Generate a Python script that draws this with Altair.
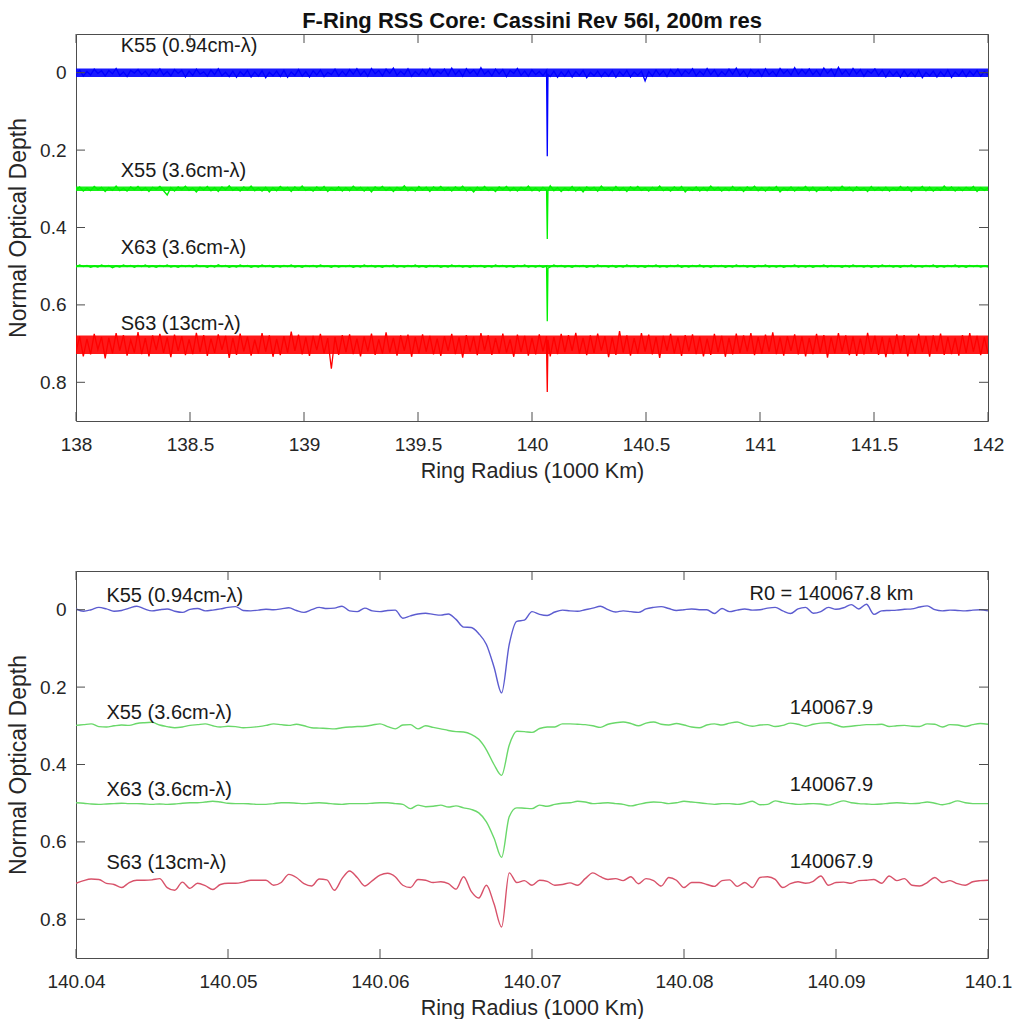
import altair as alt
import pandas as pd

# ---------------- data ----------------
SERIES = ["K55", "X55", "X63", "S63"]
LABELS = ["K55 (0.94cm-λ)", "X55 (3.6cm-λ)", "X63 (3.6cm-λ)", "S63 (13cm-λ)"]
TOP_BASE = [0, 300, 500, 703]          # thousandths of optical depth
TOP_CORE = [11, 6, 3, 24]              # half-width of the dense noise core (thousandths)
TOP_COLORS = ["#0000ff", "#00f000", "#00f000", "#ff0000"]
BOT_COLORS = ["#5c5cd0", "#6ad86a", "#6ad86a", "#d8526a"]

# top panel: 200 m sampled profile, deviations from base (thousandths)
TOP_START, TOP_STEP = 138.0, 0.016
K55_TOP = [4,-7,9,-3,6,-9,2,-5,8,-6,3,-11,7,-2,10,-6,1,-8,5,-4,9,-7,3,-10,6,
           -3,8,-8,2,-6,11,-4,7,-9,4,-2,9,-7,5,-10,8,-1,10,-4,12,-3,7,-6,11,-2,
           9,-5,13,-1,8,-4,10,-6,12,-2,7,-8,9,-3,11,-5,6,-7,10,-1,5,-9,8,-4,7,
           -8,4,-10,6,-5,9,-11,3,-6,8,-9,2,-12,7,-4,5,-10,9,-3,6,-8,4,-11,8,-5,
           3,-9,7,-12,5,-6,9,-10,2,-7,6,-13,4,-5,8,-9,3,-8,10,-6,2,-11,7,-4,9,
           -7,5,-3,8,-6,10,-4,12,-2,9,-5,11,-3,7,-6,13,-1,8,-4,10,-2,9,-5,12,-3,
           8,-6,11,-2,7,-4,21,-3,9,-7,6,-5,10,-8,4,-9,7,-6,3,-10,8,-4,6,-11,5,
           -7,9,-3,6,-9,4,-12,7,-5,10,-8,3,-6,9,-10,5,-4,8,-11,2,-7,6,-13,4,-8,
           3,-10,5,-6,7,-12,2,-9,8,-14,4,-7,6,-11,3,-8,9,-5,2,-10,7,-6,11,-4,8,
           -3,12,-5,9,-2,10,-6,13,-1,8,-4,11,-3,9,-7,12,-2,8,-5,10,-4,7,-6,9,-3,
           5]
X55_TOP = [3,-5,6,-2,5,-6,2,-4,7,-3,4,-7,5,-1,6,-5,2,-6,4,-3,7,-4,1,-6,5,
           16,-3,6,-5,2,-7,4,-2,8,-4,3,-6,5,-3,7,-5,2,-8,4,-2,6,-5,3,-7,5,
           -2,6,-4,8,-3,5,-6,2,-4,7,-5,3,-7,4,-1,6,-5,3,-6,7,-2,4,-5,6,-3,
           5,-7,2,-4,6,-3,8,-5,1,-6,4,-3,7,-4,2,-8,5,-2,6,-6,3,-4,7,-5,2,
           -6,4,-3,6,-5,2,-7,5,-2,8,-4,3,-6,4,-1,7,-5,2,-6,5,-3,6,-4,3,-7,
           5,-2,6,-4,3,-8,5,-3,7,-2,4,-6,6,-3,8,-5,2,-4,6,-7,3,-2,5,-6,4,
           -3,7,-5,2,-6,4,-2,6,-4,3,-7,5,-1,6,-5,3,-6,8,-2,4,-5,6,-3,5,-7,
           3,-4,6,-2,5,-6,4,-3,7,-5,2,-7,5,-3,6,-4,3,-6,8,-2,4,-5,6,-3,2,
           -6,5,-4,7,-2,3,-5,6,-3,4,-7,2,-4,6,-5,3,-2,7,-6,4,-3,5,-4,6,-2,
           4,-6,3,-5,7,-3,2,-6,5,-4,6,-2,4,-7,3,-5,6,-3,5,-4,2,-6,7,-3,4,
           -2]
X63_TOP = [2,-3,1,-2,3,-1,2,-3,1,-2,4,-1,2,-3,1,-2,3,-2,1,-3,2,-1,3,-2,1,
           -3,2,-1,3,-2,1,-2,2,-3,1,-1,3,-2,2,-4,1,-2,3,-1,2,-3,1,-2,3,-1,
           2,-3,1,-2,3,-1,2,-2,1,-3,2,-1,3,-2,1,-2,2,-3,1,-1,3,-2,2,-1,1,
           -2,3,-1,2,-3,1,-2,2,-1,3,-2,1,-3,2,-1,2,-2,1,-3,2,-1,3,-2,1,-2,
           3,-1,2,-3,1,-2,2,-1,3,-2,1,-2,3,-1,2,-3,1,-2,2,-1,3,-2,1,-3,2,
           -1,2,-2,3,-1,2,-3,1,-2,2,-1,3,-2,1,-2,3,-1,2,-3,1,-1,2,-2,3,-1,
           2,-3,1,-2,2,-1,3,-2,1,-3,2,-1,2,-2,1,-3,3,-1,2,-2,1,-3,2,-1,3,
           -2,1,-2,3,-1,2,-3,1,-2,2,-1,3,-2,1,-3,2,-1,2,-2,3,-1,1,-3,2,-1,
           2,-2,3,-1,1,-3,2,-2,1,-1,3,-2,2,-3,1,-1,2,-2,3,-1,2,-3,1,-2,2,
           -1,3,-2,1,-3,2,-1,2,-2,1,-3,3,-1,2,-2,1,-3,2,-1,3,-2,1,-2,2,-1,
           2]
S63_TOP = [18,-22,30,-15,25,-28,12,-20,35,-18,22,-30,15,-25,28,-12,20,-33,24,-17,30,-24,14,-28,21,
           -19,32,-26,16,-22,27,-14,24,-31,19,-25,29,-16,21,-27,13,-23,34,-18,26,-29,17,-21,28,-13,
           23,-30,18,-24,31,-15,27,-22,20,-34,16,-26,25,-19,29,-23,14,-28,22,-17,62,-20,26,-25,19,
           -27,24,-16,30,-21,17,-29,26,-14,23,-32,20,-18,28,-24,15,-26,31,-20,22,-27,18,-23,25,-16,
           29,-22,16,-28,24,-19,33,-25,18,-21,27,-30,15,-24,26,-17,22,-29,20,-14,31,-26,19,-23,28,
           -18,25,-27,17,-22,30,-20,24,-28,19,-25,16,-31,23,-18,27,-24,21,-29,15,-22,32,-19,26,-35,
           20,-24,28,-17,23,-30,18,-26,25,-20,34,-23,16,-28,22,-19,29,-25,17,-27,24,-21,30,-16,26,
           -28,19,-23,31,-18,25,-29,21,-24,17,-30,27,-20,23,-26,18,-32,24,-19,28,-22,16,-27,25,-21,
           30,-17,24,-28,20,-25,33,-19,22,-30,18,-24,27,-21,29,-16,25,-31,19,-23,26,-20,32,-18,24,
           -27,21,-25,30,-16,23,-28,19,-22,31,-24,17,-29,26,-20,24,-18,28,-25,21,-30,18,-23,27,-19,
           22]
# the narrow F-ring core seen in the top panel (absolute thousandths)
SPIKE_R = [140.064, 140.067, 140.070]
SPIKE_TAU = {"K55": [8, 216, 5], "X55": [308, 430, 305],
             "X63": [506, 642, 505], "S63": [715, 825, 690]}

# bottom panel: zoom on the core, absolute optical depth (thousandths), 0.5 km sampling
BOT_START, BOT_STEP = 140.04, 0.0005
K55_BOT = [-2, 4, 0, -6, -2, 4, 2, -4, -9, -2,
           3, 0, -2, 4, 7, -1, -3, 3, 1, -2,
           -6, -8, 2, 3, 1, -1, 0, -2, -5, 2,
           7, 0, -6, -3, -4, -9, 3, 5, -4, 3,
           5, 2, 1, 22, 16, 11, 9, 12, 14, 11,
           25, 45, 46, 62, 90, 148, 215, 90, 30, 27,
           5, 12, 15, 6, 1, 3, 4, 0, -4, -9,
           0, 6, 3, 5, 7, -2, -6, -8, -3, 2,
           0, -2, 0, 0, 10, -3, 5, 1, -2, 1,
           0, -4, -6, 3, 10, -2, -6, 9, 5, -6,
           -1, -5, -13, -2, -14, 12, 3, 2, 1, -1,
           -2, -7, -10, 0, 3, 1, 2, 3, 1, 0,
           3]
X55_BOT = [299, 297, 295, 302, 303, 300, 298, 299, 294, 292,
           291, 298, 302, 305, 303, 299, 297, 295, 300, 303,
           301, 302, 305, 304, 302, 299, 295, 297, 299, 296,
           300, 305, 306, 307, 308, 305, 303, 302, 301, 298,
           295, 302, 308, 298, 297, 308, 300, 304, 308, 312,
           315, 316, 322, 335, 362, 400, 428, 350, 314, 315,
           317, 307, 303, 303, 295, 295, 296, 297, 300, 304,
           296, 292, 290, 294, 300, 293, 290, 296, 298, 294,
           298, 303, 305, 298, 295, 298, 293, 290, 297, 301,
           298, 297, 302, 299, 293, 296, 301, 296, 293, 292,
           298, 303, 301, 299, 297, 297, 296, 302, 300, 299,
           301, 302, 295, 296, 303, 297, 298, 302, 297, 294,
           296]
X63_BOT = [499, 500, 502, 503, 502, 501, 500, 501, 501, 502,
           503, 502, 503, 502, 500, 499, 499, 497, 495, 497,
           500, 501, 501, 502, 503, 503, 501, 499, 499, 500,
           501, 500, 499, 500, 502, 503, 501, 501, 501, 500,
           499, 499, 501, 503, 514, 505, 509, 508, 505, 510,
           507, 512, 516, 525, 548, 590, 640, 535, 512, 513,
           514, 505, 508, 503, 500, 499, 495, 497, 501, 500,
           499, 501, 503, 507, 503, 499, 497, 498, 501, 499,
           495, 497, 499, 501, 503, 501, 501, 503, 500, 495,
           504, 503, 494, 498, 501, 503, 502, 501, 502, 505,
           499, 494, 499, 501, 502, 503, 502, 500, 499, 500,
           501, 500, 497, 500, 504, 500, 494, 499, 501, 501,
           501]
S63_BOT = [707, 700, 696, 697, 707, 710, 718, 705, 699, 699,
           698, 695, 718, 725, 704, 720, 707, 713, 723, 710,
           707, 707, 704, 699, 699, 699, 712, 705, 684, 692,
           708, 714, 696, 698, 725, 695, 675, 692, 714, 700,
           686, 681, 690, 712, 718, 697, 699, 705, 703, 708,
           722, 690, 728, 745, 712, 760, 820, 680, 705, 700,
           712, 699, 702, 712, 710, 706, 712, 695, 680, 690,
           697, 695, 700, 690, 708, 695, 700, 714, 692, 699,
           718, 705, 705, 710, 715, 700, 698, 715, 705, 718,
           692, 690, 697, 718, 708, 703, 707, 702, 688, 712,
           705, 704, 707, 700, 699, 697, 707, 688, 700, 695,
           712, 714, 705, 692, 705, 700, 708, 712, 703, 700,
           699]

TOP_XTICKS = [138, 138.5, 139, 139.5, 140, 140.5, 141, 141.5, 142]
BOT_XTICKS = [140.04, 140.05, 140.06, 140.07, 140.08, 140.09, 140.1]
YTICKS = [0, 0.2, 0.4, 0.6, 0.8]

TOP_LAB_R = 138.196
TOP_LAB_TAU = [-0.07, 0.253, 0.452, 0.65]
BOT_LAB_R = 140.042
BOT_LAB_TAU = [-0.036, 0.268, 0.467, 0.655]
R0_TEXT = ["R0 = 140067.8 km", "140067.9", "140067.9", "140067.9"]
R0_R = 140.0897
R0_TAU = [-0.041, 0.253, 0.454, 0.653]

# ---------------- tables ----------------
rows = []
for s, base, dev in zip(SERIES, TOP_BASE, [K55_TOP, X55_TOP, X63_TOP, S63_TOP]):
    for k, d in enumerate(dev):
        rows.append({"r": TOP_START + TOP_STEP * k, "tau": (base + d) / 1000.0, "series": s})
    for r, t in zip(SPIKE_R, SPIKE_TAU[s]):
        rows.append({"r": r, "tau": t / 1000.0, "series": s})
top_df = pd.DataFrame(rows)

core_df = pd.DataFrame([
    {"r": r, "lo": (b - c) / 1000.0, "hi": (b + c) / 1000.0, "series": s}
    for s, b, c in zip(SERIES, TOP_BASE, TOP_CORE) for r in (138.0, 142.0)
])

rows = []
for s, vals in zip(SERIES, [K55_BOT, X55_BOT, X63_BOT, S63_BOT]):
    for j, v in enumerate(vals):
        rows.append({"r": BOT_START + BOT_STEP * j, "tau": v / 1000.0, "band": s})
bot_df = pd.DataFrame(rows)

top_lab = pd.DataFrame({"r": [TOP_LAB_R] * 4, "tau": TOP_LAB_TAU, "text": LABELS})
bot_lab = pd.DataFrame({"r": [BOT_LAB_R] * 4, "tau": BOT_LAB_TAU, "text": LABELS})
r0_lab = pd.DataFrame({"r": [R0_R] * 4, "tau": R0_TAU, "text": R0_TEXT})

FONT = "Liberation Sans"
W, H = 912, 387
TL = 9
AX = "#4d4d4d"


def panel(df, cfield, labs, extra_labs, xticks, xdom, colors, interp, sw, core=None, title=None):
    xs = alt.Scale(domain=xdom, nice=False, zero=False)
    ys = alt.Scale(domain=[-0.1, 0.9], reverse=True, nice=False, zero=False)
    x_enc = alt.X("r:Q", scale=xs,
                  axis=alt.Axis(values=xticks, format="~g", title="Ring Radius (1000 Km)",
                                ticks=False, domain=False, grid=False, labelFlush=False,
                                labelPadding=14, titlePadding=6))
    y_enc = alt.Y("tau:Q", scale=ys,
                  axis=alt.Axis(values=YTICKS, format="~g", title="Normal Optical Depth",
                                ticks=False, domain=False, grid=False, labelFlush=False,
                                labelPadding=10, titlePadding=9, titleFontSize=23))
    color = alt.Color(f"{cfield}:N", scale=alt.Scale(domain=SERIES, range=colors), legend=None)
    layers = []
    if core is not None:
        layers.append(alt.Chart(core).mark_area(clip=True, opacity=0.9).encode(
            x=x_enc, y=alt.Y("lo:Q", scale=ys), y2="hi:Q", color=color,
            detail=f"{cfield}:N"))
    layers.append(alt.Chart(df).mark_line(strokeWidth=sw, clip=True, interpolate=interp).encode(
        x=x_enc, y=y_enc, color=color, detail=f"{cfield}:N"))
    layers.append(alt.Chart(labs).mark_text(align="left", baseline="middle", font=FONT,
                                            fontSize=20, color="#1a1a1a").encode(
        x=x_enc, y=y_enc, text="text:N"))
    if extra_labs is not None:
        layers.append(alt.Chart(extra_labs).mark_text(align="center", baseline="middle", font=FONT,
                                                      fontSize=20, color="#1a1a1a").encode(
            x=x_enc, y=y_enc, text="text:N"))
    xt = pd.DataFrame({"r": xticks})
    yt = pd.DataFrame({"tau": YTICKS})
    tick_style = dict(color=AX, strokeWidth=1)
    layers.append(alt.Chart(xt).mark_rule(**tick_style).encode(
        x=x_enc, y=alt.value(H), y2=alt.value(H - TL)))
    layers.append(alt.Chart(xt).mark_rule(**tick_style).encode(
        x=x_enc, y=alt.value(0), y2=alt.value(TL)))
    layers.append(alt.Chart(yt).mark_rule(**tick_style).encode(
        y=y_enc, x=alt.value(0), x2=alt.value(TL)))
    layers.append(alt.Chart(yt).mark_rule(**tick_style).encode(
        y=y_enc, x=alt.value(W), x2=alt.value(W - TL)))
    ch = alt.layer(*layers).properties(width=W, height=H)
    if title is not None:
        ch = ch.properties(title=title)
    return ch


top = panel(top_df, "series", top_lab, None, TOP_XTICKS, [138, 142], TOP_COLORS, "linear", 1.3,
            core=core_df,
            title=alt.TitleParams("F-Ring RSS Core: Cassini Rev 56I, 200m res", font=FONT,
                                  fontSize=22, fontWeight="bold", color="#111111",
                                  anchor="middle", offset=1))
bottom = panel(bot_df, "band", bot_lab, r0_lab, BOT_XTICKS, [140.04, 140.1], BOT_COLORS,
               "monotone", 1.4)

chart = alt.vconcat(top, bottom, spacing=88).resolve_scale(color="independent").properties(
    padding={"left": 7, "top": 9, "right": 0, "bottom": 0},
    background="white",
).configure_view(stroke=AX, strokeWidth=1).configure_axis(
    labelFont=FONT, labelFontSize=19, labelColor="#262626",
    titleFont=FONT, titleFontSize=21.5, titleColor="#262626", titleFontWeight="normal",
)

chart.save("out.html", embed_options={"renderer": "svg", "actions": False})
